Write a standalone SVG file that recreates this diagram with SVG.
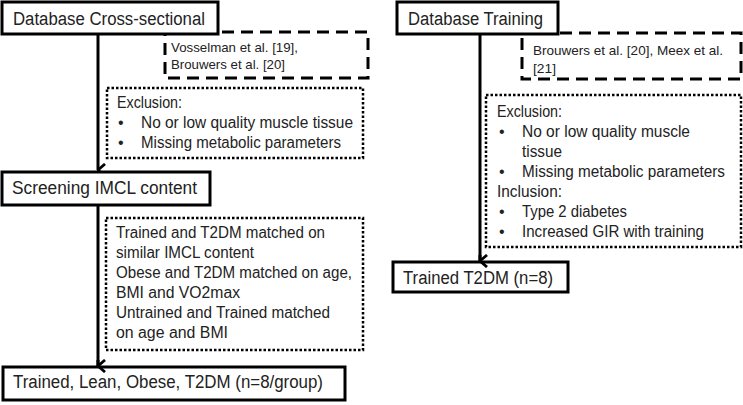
<svg xmlns="http://www.w3.org/2000/svg" width="743" height="405" viewBox="0 0 743 405">
<defs>
<style>
text{font-family:"Liberation Sans",Arial,sans-serif;fill:#222;}
.t{font-size:18px;}
.b{font-size:16px;}
.r{font-size:13.5px;}
.box{fill:#fff;stroke:#000;stroke-width:3;}
.dash{fill:none;stroke:#000;stroke-width:3;stroke-dasharray:12 7;}
.dot{fill:none;stroke:#000;stroke-width:2.5;stroke-dasharray:2.5 2;}
.conn{stroke:#000;stroke-width:3;fill:none;}
</style>
<marker id="ah" viewBox="0 0 14 10" refX="7" refY="9" markerWidth="14" markerHeight="10" markerUnits="userSpaceOnUse" orient="auto-start-reverse">
<polyline points="1,2 7,9 13,2" fill="none" stroke="#000" stroke-width="2.8"/>
</marker>
</defs>
<g id="connectors">
<line class="conn" x1="98" y1="34" x2="98" y2="170" marker-end="url(#ah)" transform="rotate(0)"/>
<line class="conn" x1="98" y1="205" x2="98" y2="366"/>
<line class="conn" x1="480" y1="34" x2="480" y2="261"/>
</g>
<g id="ref-left">
<rect class="dash" x="165" y="32" width="203" height="46"/>
<text class="r" x="171" y="52" textLength="127" lengthAdjust="spacingAndGlyphs">Vosselman et al. [19],</text>
<text class="r" x="171" y="69" textLength="114" lengthAdjust="spacingAndGlyphs">Brouwers et al. [20]</text>
</g>
<g id="exclusion-left">
<rect class="dot" x="107" y="88" width="256" height="70"/>
<text class="b" x="117" y="108" textLength="65" lengthAdjust="spacingAndGlyphs">Exclusion:</text>
<text class="b" x="118" y="128">•</text>
<text class="b" x="141" y="128" textLength="212" lengthAdjust="spacingAndGlyphs">No or low quality muscle tissue</text>
<text class="b" x="118" y="148">•</text>
<text class="b" x="141" y="148" textLength="200" lengthAdjust="spacingAndGlyphs">Missing metabolic parameters</text>
</g>
<g id="db-cross">
<rect class="box" x="2" y="2" width="216" height="32"/>
<text class="t" x="13" y="25" textLength="192" lengthAdjust="spacingAndGlyphs">Database Cross-sectional</text>
</g>
<g id="screening">
<rect class="box" x="2" y="172" width="208" height="33"/>
<text class="t" x="12" y="194" textLength="185" lengthAdjust="spacingAndGlyphs">Screening IMCL content</text>
</g>
<g id="matching">
<rect class="dot" x="106" y="218" width="257" height="132"/>
<text class="b" x="116" y="238" textLength="209" lengthAdjust="spacingAndGlyphs">Trained and T2DM matched on</text>
<text class="b" x="116" y="258" textLength="138" lengthAdjust="spacingAndGlyphs">similar IMCL content</text>
<text class="b" x="116" y="278" textLength="236" lengthAdjust="spacingAndGlyphs">Obese and T2DM matched on age,</text>
<text class="b" x="116" y="298" textLength="124" lengthAdjust="spacingAndGlyphs">BMI and VO2max</text>
<text class="b" x="116" y="318" textLength="214" lengthAdjust="spacingAndGlyphs">Untrained and Trained matched</text>
<text class="b" x="116" y="338" textLength="112" lengthAdjust="spacingAndGlyphs">on age and BMI</text>
</g>
<g id="final-left">
<rect class="box" x="3" y="367" width="342" height="33"/>
<text class="t" x="13" y="388" textLength="310" lengthAdjust="spacingAndGlyphs">Trained, Lean, Obese, T2DM (n=8/group)</text>
</g>
<g id="ref-right">
<rect class="dash" x="522" y="33" width="219" height="46"/>
<text class="r" x="533" y="55" textLength="190" lengthAdjust="spacingAndGlyphs">Brouwers et al. [20], Meex et al.</text>
<text class="r" x="533" y="73" textLength="23" lengthAdjust="spacingAndGlyphs">[21]</text>
</g>
<g id="criteria-right">
<rect class="dot" x="486" y="95" width="255" height="152"/>
<text class="b" x="497" y="117" textLength="65" lengthAdjust="spacingAndGlyphs">Exclusion:</text>
<text class="b" x="499" y="137">•</text>
<text class="b" x="522" y="137" textLength="168" lengthAdjust="spacingAndGlyphs">No or low quality muscle</text>
<text class="b" x="522" y="157" textLength="40" lengthAdjust="spacingAndGlyphs">tissue</text>
<text class="b" x="499" y="177">•</text>
<text class="b" x="522" y="177" textLength="203" lengthAdjust="spacingAndGlyphs">Missing metabolic parameters</text>
<text class="b" x="497" y="197" textLength="65" lengthAdjust="spacingAndGlyphs">Inclusion:</text>
<text class="b" x="499" y="217">•</text>
<text class="b" x="522" y="217" textLength="105" lengthAdjust="spacingAndGlyphs">Type 2 diabetes</text>
<text class="b" x="499" y="237">•</text>
<text class="b" x="522" y="237" textLength="182" lengthAdjust="spacingAndGlyphs">Increased GIR with training</text>
</g>
<g id="db-training">
<rect class="box" x="397" y="2" width="161" height="32"/>
<text class="t" x="408" y="25" textLength="135" lengthAdjust="spacingAndGlyphs">Database Training</text>
</g>
<g id="final-right">
<rect class="box" x="393" y="262" width="175" height="30"/>
<text class="t" x="403" y="284" textLength="150" lengthAdjust="spacingAndGlyphs">Trained T2DM (n=8)</text>
</g>
<g id="arrowheads">
<line class="conn" x1="98" y1="360" x2="98" y2="366" marker-end="url(#ah)"/>
<line class="conn" x1="480" y1="255" x2="480" y2="261" marker-end="url(#ah)"/>
</g>
</svg>
